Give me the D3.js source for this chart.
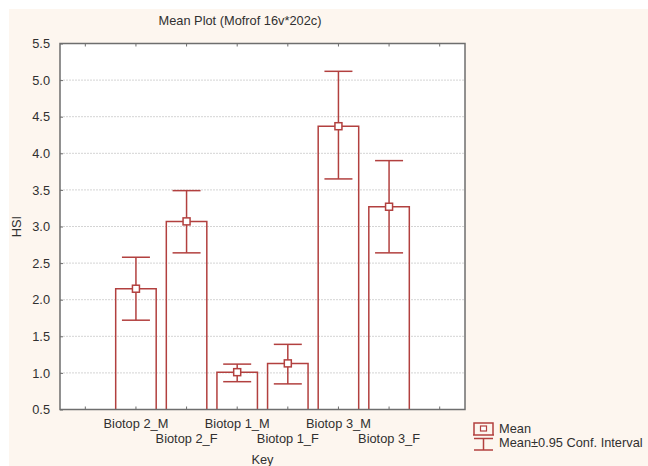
<!DOCTYPE html>
<html>
<head>
<meta charset="utf-8">
<script src="https://cdn.jsdelivr.net/npm/d3@7"></script>
<style>
  html, body { margin: 0; padding: 0; background: #ffffff; }
  svg { display: block; font-family: "Liberation Sans", Arial, sans-serif; }
</style>
</head>
<body>
<svg id="chart" width="648" height="466"></svg>
<script>
// ---- data ----
const categories = ["Biotop 2_M", "Biotop 2_F", "Biotop 1_M", "Biotop 1_F", "Biotop 3_M", "Biotop 3_F"];
const means = [2.15, 3.07, 1.01, 1.13, 4.37, 3.27];
const upper = [2.58, 3.49, 1.12, 1.39, 5.12, 3.90];
const lower = [1.72, 2.64, 0.88, 0.85, 3.65, 2.64];
const yTicks = [0.5, 1.0, 1.5, 2.0, 2.5, 3.0, 3.5, 4.0, 4.5, 5.0, 5.5];
const titleText = "Mean Plot (Mofrof 16v*202c)";
const xTitle = "Key";
const yTitle = "HSI";
const legendLabels = ["Mean", "Mean±0.95 Conf. Interval"];

(function () {
// ---- layout ----
const svg = d3.select("#chart");
const W = 648, H = 466;
const pLeft = 60, pRight = 465, pTop = 43.5, pBottom = 409.5;
const red = "#b2403f";
const frame = "#6e6e6e";
const fs = 12.8;
const txt = "#303030";

svg.append("rect").attr("x", 9).attr("y", 9).attr("width", W - 9).attr("height", H - 9)
  .attr("fill", "#fdf6ef");

svg.append("rect").attr("x", pLeft).attr("y", pTop).attr("width", pRight - pLeft).attr("height", pBottom - pTop)
  .attr("fill", "#ffffff");

const x = d3.scaleBand().domain(categories).range([pLeft, pRight]).paddingInner(0.2).paddingOuter(1.1);
const y = d3.scaleLinear().domain([0.5, 5.5]).range([pBottom, pTop]);

// gridlines
svg.append("g").selectAll("line").data(yTicks.slice(1, -1)).join("line")
  .attr("x1", pLeft).attr("x2", pRight)
  .attr("y1", d => y(d)).attr("y2", d => y(d))
  .attr("stroke", "#d4d4d4").attr("stroke-width", 1).attr("stroke-dasharray", "2,1");

// y axis labels + ticks
const yAxis = d3.axisLeft(y).tickValues(yTicks).tickFormat(d3.format(".1f")).tickSize(-3).tickPadding(10);
const gy = svg.append("g").attr("transform", `translate(${pLeft},0)`).call(yAxis);
gy.select(".domain").remove();
gy.selectAll(".tick line").attr("stroke", frame);
gy.selectAll(".tick text").attr("font-size", fs).attr("fill", txt)
  .attr("font-family", "Liberation Sans, Arial, sans-serif");

// x tick positions (including empty slots at both ends)
const step = x.step();
const centers = categories.map(c => x(c) + x.bandwidth() / 2);
const tickXs = [centers[0] - step, ...centers, centers[centers.length - 1] + step];
svg.append("g").selectAll("line").data(tickXs).join("line")
  .attr("x1", d => d).attr("x2", d => d).attr("y1", pTop).attr("y2", pTop + 3)
  .attr("stroke", frame).attr("stroke-width", 1);
svg.append("g").selectAll("line").data(tickXs).join("line")
  .attr("x1", d => d).attr("x2", d => d).attr("y1", pBottom).attr("y2", pBottom - 3)
  .attr("stroke", frame).attr("stroke-width", 1);

// bars
const g = svg.append("g");
categories.forEach((c, i) => {
  const x0 = x(c), bw = x.bandwidth(), cx = x0 + bw / 2;
  g.append("path")
    .attr("d", `M${x0},${pBottom} V${y(means[i])} H${x0 + bw} V${pBottom}`)
    .attr("fill", "none").attr("stroke", red).attr("stroke-width", 1.5);
  const cap = 14;
  g.append("line").attr("x1", cx).attr("x2", cx).attr("y1", y(upper[i])).attr("y2", y(lower[i]))
    .attr("stroke", red).attr("stroke-width", 1.5);
  g.append("line").attr("x1", cx - cap).attr("x2", cx + cap).attr("y1", y(upper[i])).attr("y2", y(upper[i]))
    .attr("stroke", red).attr("stroke-width", 1.5);
  g.append("line").attr("x1", cx - cap).attr("x2", cx + cap).attr("y1", y(lower[i])).attr("y2", y(lower[i]))
    .attr("stroke", red).attr("stroke-width", 1.5);
  g.append("rect").attr("x", cx - 3.5).attr("y", y(means[i]) - 3.5).attr("width", 7).attr("height", 7)
    .attr("fill", "#ffffff").attr("stroke", red).attr("stroke-width", 1.5);
});

// frame
svg.append("rect").attr("x", pLeft).attr("y", pTop).attr("width", pRight - pLeft).attr("height", pBottom - pTop)
  .attr("fill", "none").attr("stroke", frame).attr("stroke-width", 1.5);

// x labels (staggered)
svg.append("g").selectAll("text").data(categories).join("text")
  .attr("x", d => x(d) + x.bandwidth() / 2)
  .attr("y", (d, i) => i % 2 === 0 ? 428 : 443)
  .attr("text-anchor", "middle").attr("font-size", fs).attr("fill", txt)
  .text(d => d);

// titles
svg.append("text").attr("x", 240).attr("y", 25).attr("text-anchor", "middle")
  .attr("font-size", fs).attr("fill", txt).text(titleText);
svg.append("text").attr("x", (pLeft + pRight) / 2).attr("y", 464).attr("text-anchor", "middle")
  .attr("font-size", fs).attr("fill", txt).text(xTitle);
svg.append("text").attr("transform", `translate(21,${(pTop + pBottom) / 2}) rotate(-90)`)
  .attr("text-anchor", "middle").attr("font-size", fs).attr("fill", txt).text(yTitle);

// legend
const lg = svg.append("g");
lg.append("path").attr("d", "M474,435 V423 H493 V435").attr("fill", "none").attr("stroke", red).attr("stroke-width", 1.5);
lg.append("line").attr("x1", 473).attr("x2", 494).attr("y1", 435).attr("y2", 435).attr("stroke", red).attr("stroke-width", 1.5);
lg.append("rect").attr("x", 480.5).attr("y", 426).attr("width", 6).attr("height", 5)
  .attr("fill", "#ffffff").attr("stroke", red).attr("stroke-width", 1.2);
lg.append("line").attr("x1", 474).attr("x2", 493).attr("y1", 438.5).attr("y2", 438.5).attr("stroke", red).attr("stroke-width", 1.5);
lg.append("line").attr("x1", 483.5).attr("x2", 483.5).attr("y1", 438.5).attr("y2", 450).attr("stroke", red).attr("stroke-width", 1.5);
lg.append("line").attr("x1", 474).attr("x2", 493).attr("y1", 450).attr("y2", 450).attr("stroke", red).attr("stroke-width", 1.5);
lg.selectAll("text").data(legendLabels).join("text")
  .attr("x", 499).attr("y", (d, i) => 433 + i * 14)
  .attr("font-size", fs).attr("fill", txt).text(d => d);
})();
</script>
</body>
</html>
